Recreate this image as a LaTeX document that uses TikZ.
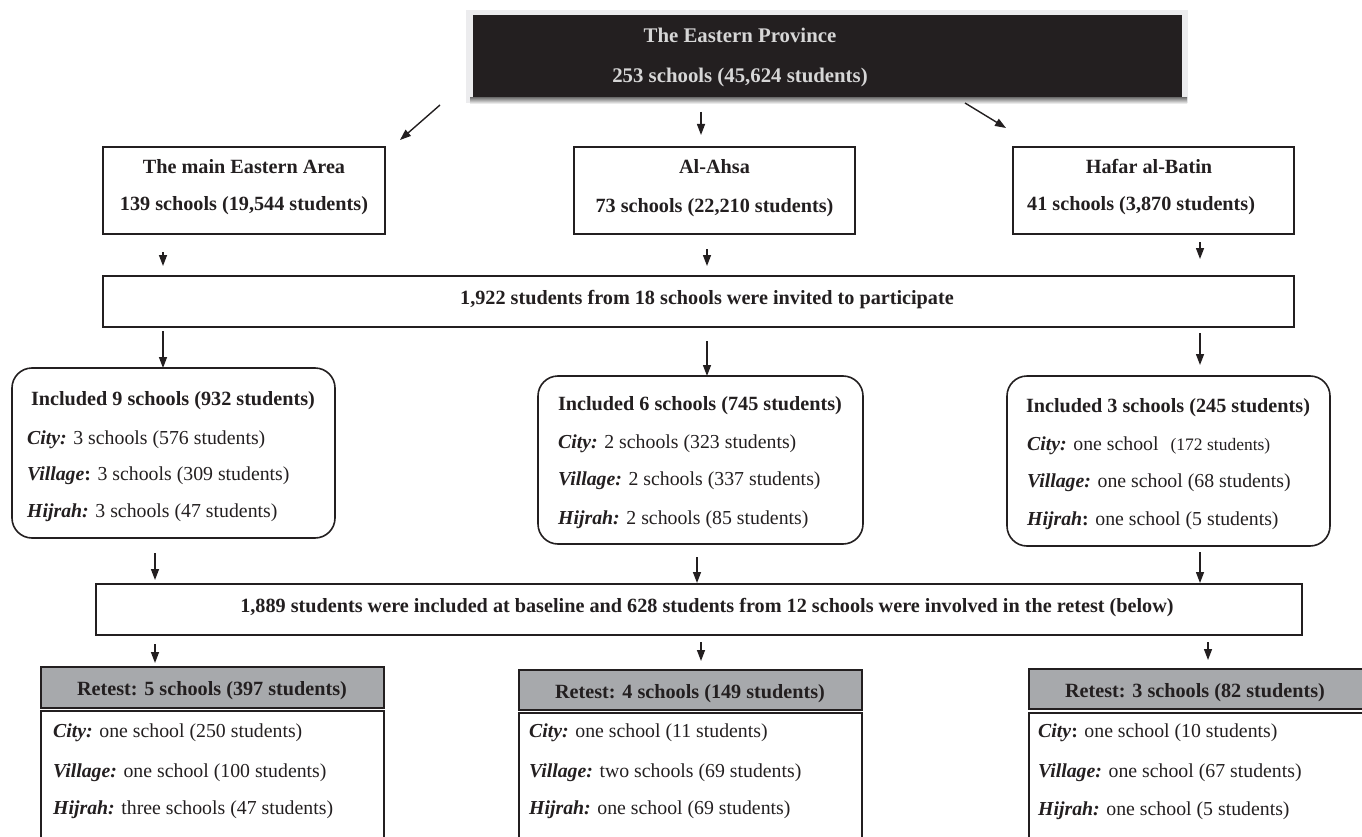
\documentclass[tikz,border=0pt]{standalone}
\usepackage{fontspec}
\setmainfont{Liberation Serif}
\usetikzlibrary{arrows.meta,calc}
\definecolor{ink}{HTML}{231F20}
\definecolor{txtlight}{HTML}{D6D6D6}
\definecolor{retgray}{HTML}{A7A9AC}
\definecolor{frame}{HTML}{ECECEE}
\definecolor{shade}{HTML}{BDBDBF}
\newcommand{\bi}[1]{\textbf{\textit{#1}}}
\begin{document}
\begin{tikzpicture}[x=1pt,y=-1pt,
  box/.style={draw=ink, line width=1.6pt, rectangle, inner sep=0pt, outer sep=0pt},
  rbox/.style={box, rounded corners=20pt},
  gbox/.style={box, fill=retgray},
  arr/.style={draw=ink, line width=1.4pt, -{Triangle[length=11pt,width=8pt]}},
  bt/.style={font=\fontsize{20.2}{24}\selectfont\bfseries, text=ink, inner sep=0pt},
  rt/.style={font=\fontsize{19.8}{24}\selectfont, text=ink, inner sep=0pt},
]
\clip (0,0) rectangle (1362,837);
\fill[white] (0,0) rectangle (1362,837);

% top box
\fill[frame] (466,10) rectangle (1188,103);
\fill[shade] (470,98) rectangle (1187,104);
\node[box, draw=none, fill=ink, minimum width=709pt, minimum height=82pt] (prov) at (827.5,56) {};
\node[bt, text=txtlight, font=\fontsize{20.8}{24}\selectfont\bfseries, anchor=base] (provA) at (740,43) {The Eastern Province};
\node[bt, text=txtlight, font=\fontsize{20.8}{24}\selectfont\bfseries, anchor=base] (provB) at (740,82.5) {253 schools (45,624 students)};

% level 1
\node[box, minimum width=282pt, minimum height=87pt] (east) at (244,190.5) {};
\node[bt, anchor=base] (eastA) at (244,174) {The main Eastern Area};
\node[bt, anchor=base] (eastB) at (244,211) {139 schools (19,544 students)};

\node[box, minimum width=281pt, minimum height=87pt] (ahsa) at (714.5,190.5) {};
\node[bt, anchor=base] (ahsaA) at (714.5,174) {Al-Ahsa};
\node[bt, anchor=base] (ahsaB) at (714.5,212) {73 schools (22,210 students)};

\node[box, minimum width=281pt, minimum height=87pt] (hafar) at (1153.5,190.5) {};
\node[bt, anchor=base] (hafarA) at (1149,174) {Hafar al-Batin};
\node[bt, anchor=base west] (hafarB) at (1027,211) {41 schools (3,870 students)};

% invited
\node[box, minimum width=1191pt, minimum height=51pt] (inv) at (698.5,301.5) {};
\node[bt, anchor=base] (invT) at (707,304) {1,922 students from 18 schools were invited to participate};

% level 2 rounded
\node[rbox, minimum width=323pt, minimum height=170pt] (inc1) at (173.5,453) {};
\node[bt, anchor=base] (inc1T) at (173,405) {Included 9 schools (932 students)};
\node[rt, anchor=base west] (inc1a) at (27,444) {\bi{City:} 3 schools (576 students)};
\node[rt, anchor=base west] (inc1b) at (27,480) {\textbf{\textit{Village}:} 3 schools (309 students)};
\node[rt, anchor=base west] (inc1c) at (27,517) {\bi{Hijrah:} 3 schools (47 students)};

\node[rbox, minimum width=325pt, minimum height=168pt] (inc2) at (700.5,460) {};
\node[bt, anchor=base] (inc2T) at (700,410) {Included 6 schools (745 students)};
\node[rt, anchor=base west] (inc2a) at (558,448) {\bi{City:} 2 schools (323 students)};
\node[rt, anchor=base west] (inc2b) at (558,485) {\bi{Village:} 2 schools (337 students)};
\node[rt, anchor=base west] (inc2c) at (558,524) {\bi{Hijrah:} 2 schools (85 students)};

\node[rbox, minimum width=323pt, minimum height=170pt] (inc3) at (1168.5,461) {};
\node[bt, anchor=base] (inc3T) at (1168,412) {Included 3 schools (245 students)};
\node[rt, anchor=base west] (inc3a) at (1027,450) {\bi{City:} one school\hspace{12pt}{\fontsize{17.5}{20}\selectfont(172 students)}};
\node[rt, anchor=base west] (inc3b) at (1027,487) {\bi{Village:} one school (68 students)};
\node[rt, anchor=base west] (inc3c) at (1027,525) {\textbf{\textit{Hijrah}:} one school (5 students)};

% baseline box
\node[box, minimum width=1206pt, minimum height=51pt] (base) at (699,609.5) {};
\node[bt, anchor=base] (baseT) at (707,612) {1,889 students were included at baseline and 628 students from 12 schools were involved in the retest (below)};

% retest headers
\node[gbox, minimum width=343pt, minimum height=41pt] (ret1) at (212.5,687.5) {};
\node[bt, anchor=base] (ret1T) at (212,695) {Retest: 5 schools (397 students)};
\node[gbox, minimum width=343pt, minimum height=40pt] (ret2) at (690.5,690) {};
\node[bt, anchor=base] (ret2T) at (690,698) {Retest: 4 schools (149 students)};
\node[gbox, minimum width=341pt, minimum height=40pt] (ret3) at (1199.5,689) {};
\node[bt, anchor=base] (ret3T) at (1195,697) {Retest: 3 schools (82 students)};

% retest details (bottom edge runs off the page)
\node[box, minimum width=343pt, minimum height=140pt] (det1) at (212.5,781) {};
\node[rt, anchor=base west] (det1a) at (53,737) {\bi{City:} one school (250 students)};
\node[rt, anchor=base west] (det1b) at (53,777) {\bi{Village:} one school (100 students)};
\node[rt, anchor=base west] (det1c) at (53,814) {\bi{Hijrah:} three schools (47 students)};

\node[box, minimum width=343pt, minimum height=140pt] (det2) at (690.5,783) {};
\node[rt, anchor=base west] (det2a) at (529,737) {\bi{City:} one school (11 students)};
\node[rt, anchor=base west] (det2b) at (529,777) {\bi{Village:} two schools (69 students)};
\node[rt, anchor=base west] (det2c) at (529,814) {\bi{Hijrah:} one school (69 students)};

\node[box, minimum width=341pt, minimum height=140pt] (det3) at (1199.5,783) {};
\node[rt, anchor=base west] (det3a) at (1038,737) {\textbf{\textit{City}:} one school (10 students)};
\node[rt, anchor=base west] (det3b) at (1038,777) {\bi{Village:} one school (67 students)};
\node[rt, anchor=base west] (det3c) at (1038,815) {\bi{Hijrah:} one school (5 students)};

% arrows
\draw[arr] ($(prov.south west)+(-33,8)$) -- ($(east.north east)+(15,-7)$);
\draw[arr] ($(prov.south)+(-126.5,15)$) -- ($(ahsa.north)+(-13.5,-12)$);
\draw[arr] ($(prov.south east)+(-217,6)$) -- ($(hafar.north west)+(-7,-19)$);

\draw[arr] ($(east.south west)+(60,18)$) -- ($(inv.north west)+(60,-10)$);
\draw[arr] ($(ahsa.south west)+(133,15)$) -- ($(inv.north west)+(604,-10)$);
\draw[arr] ($(hafar.south west)+(187,8)$) -- ($(inv.north west)+(1097,-17)$);

\draw[arr] ($(inv.south west)+(60,4)$) -- ($(inc1.north west)+(151,0)$);
\draw[arr] ($(inv.south west)+(604,14)$) -- ($(inc2.north west)+(169,0)$);
\draw[arr] ($(inv.south west)+(1097,6)$) -- ($(inc3.north west)+(193,-11)$);

\draw[arr] ($(inc1.south west)+(143,15)$) -- ($(base.north west)+(59,-4)$);
\draw[arr] ($(inc2.south west)+(159,13)$) -- ($(base.north west)+(601,-1)$);
\draw[arr] ($(inc3.south west)+(193,6)$) -- ($(base.north west)+(1104,-1)$);

\draw[arr] ($(base.south west)+(59,9)$) -- ($(ret1.north west)+(114,-4)$);
\draw[arr] ($(base.south west)+(605,7)$) -- ($(ret2.north west)+(182,-9)$);
\draw[arr] ($(base.south west)+(1112,7)$) -- ($(ret3.north west)+(179,-9)$);
\end{tikzpicture}
\end{document}
